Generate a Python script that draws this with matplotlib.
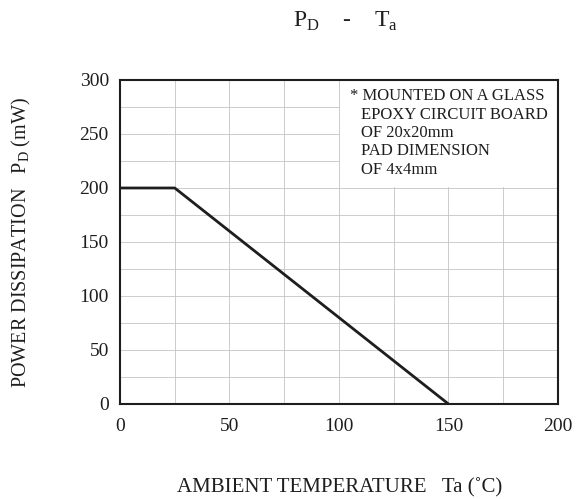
import matplotlib
matplotlib.use("Agg")
import matplotlib.pyplot as plt
from matplotlib.patches import Rectangle

# ─── DATA ────────────────────────────────────────────────
temp = [0, 25, 150, 200]        # ambient temperature (°C)
power = [200, 200, 0, 0]        # power dissipation (mW)
xticks = [0, 50, 100, 150, 200]
yticks = [0, 50, 100, 150, 200, 250, 300]
note = ["* MOUNTED ON A GLASS",
        "EPOXY CIRCUIT BOARD",
        "OF 20x20mm",
        "PAD DIMENSION",
        "OF 4x4mm"]

plt.rcParams["font.family"] = ["Liberation Serif", "DejaVu Serif"]
plt.rcParams["mathtext.fontset"] = "custom"
plt.rcParams["mathtext.rm"] = "Liberation Serif"

INK = "#1e1e1e"

fig = plt.figure(figsize=(5.85, 4.99), dpi=100)
ax = fig.add_axes([0.2051, 0.1904, 0.7487, 0.6493])

ax.set_xlim(0, 200)
ax.set_ylim(0, 300)
ax.set_xticks(xticks)
ax.set_yticks(yticks)
ax.set_xticks(range(0, 201, 25), minor=True)
ax.set_yticks(range(0, 301, 25), minor=True)
ax.grid(which="both", color="#c4c4c4", lw=0.6)
ax.set_axisbelow(True)
ax.tick_params(which="both", length=0, labelsize=14, colors=INK)
ax.tick_params(axis="x", pad=10)
ax.tick_params(axis="y", pad=8)
for s in ax.spines.values():
    s.set_linewidth(1.5)
    s.set_color(INK)

# white box behind the note hides the grid there
ax.add_patch(Rectangle((100.4, 200.6), 99.6, 99.4, facecolor="white",
                       edgecolor="none", zorder=1.5))

ax.plot(temp[:3], power[:3], color=INK, lw=2.0, zorder=3,
        solid_capstyle="butt")

# note lines, first one starts with the asterisk
ax.text(105, 292.5, note[0], fontsize=12, va="top", ha="left", color=INK, zorder=4)
for i, line in enumerate(note[1:], start=1):
    ax.text(110.2, 292.5 - i * 17.1, line, fontsize=12, va="top", ha="left",
            color=INK, zorder=4)

fig.text(0.591, 0.946, r"P$_{\rm D}$    -    T$_{\rm a}$", fontsize=17,
         ha="center", va="baseline", color=INK)
fig.text(0.037, 0.513, r"POWER DISSIPATION   P$_{\rm D}$ (mW)", fontsize=14.5,
         rotation=90, ha="center", va="center", color=INK)
fig.text(0.581, 0.022, "AMBIENT TEMPERATURE   Ta (˚C)", fontsize=15,
         ha="center", va="center", color=INK)

fig.savefig("out.png", dpi=100, facecolor="white")
